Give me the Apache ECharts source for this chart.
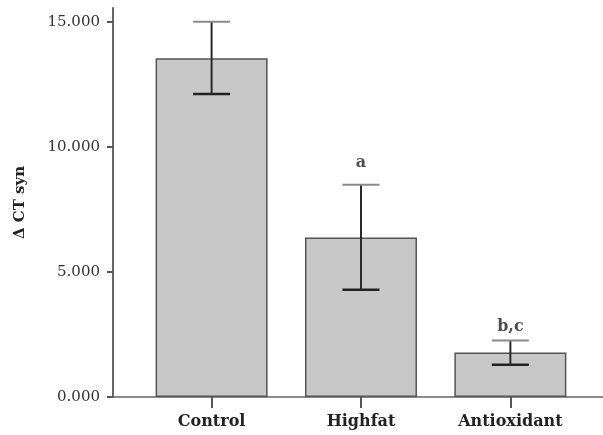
<!DOCTYPE html>
<html><head><meta charset="utf-8">
<script src="https://cdn.jsdelivr.net/npm/echarts@6/dist/echarts.min.js"></script>
<style>html,body{margin:0;padding:0;background:#fff}#c{width:603px;height:435px}</style>
</head><body><div id="c"></div>
<script>
var categories = ['Control', 'Highfat', 'Antioxidant'];
var means = [13.55, 6.38, 1.78];
var upper = [15.01, 8.49, 2.26];
var lower = [12.12, 4.29, 1.29];
var annotations = ['', 'a', 'b,c'];
var annotationY = [null, 9.37, 2.81];
var yTicks = [0, 5, 10, 15];

var chart = echarts.init(document.getElementById('c'), null, {renderer: 'canvas'});
var serif = 'DejaVu Serif';
var xIdx = categories.map(function (c, i) { return i; });

chart.setOption({
  animation: false,
  grid: {left: 113, right: 0, top: 8, bottom: 38, containLabel: false},
  xAxis: {
    type: 'value', min: -0.66, max: 2.62,
    splitLine: {show: false},
    axisLine: {show: true, onZero: false, lineStyle: {color: '#666', width: 1.5}},
    axisTick: {show: true, customValues: xIdx, length: 11, lineStyle: {color: '#555', width: 2}},
    axisLabel: {customValues: xIdx, margin: 17, fontFamily: serif, fontWeight: 'bold', fontSize: 16, color: '#222',
      formatter: function (v) { return categories[Math.round(v)] || ''; }}
  },
  yAxis: {
    type: 'value', min: 0, max: 15.56,
    name: 'Δ CT syn', nameLocation: 'middle', nameGap: 85,
    nameTextStyle: {fontFamily: serif, fontWeight: 'bold', fontSize: 15, color: '#222'},
    splitLine: {show: false},
    axisLine: {show: true, onZero: false, lineStyle: {color: '#666', width: 2}},
    axisTick: {show: true, customValues: yTicks, length: 6, lineStyle: {color: '#555', width: 2}},
    axisLabel: {customValues: yTicks, margin: 13, fontFamily: serif, fontSize: 15, color: '#333',
      formatter: function (v) { return v.toFixed(3); }}
  },
  series: [
    {
      type: 'bar', barWidth: 112,
      data: means.map(function (m, i) { return [i, m]; }),
      itemStyle: {color: '#c8c8c8', borderColor: '#555', borderWidth: 1.5}
    },
    {
      type: 'custom',
      data: means.map(function (m, i) { return [i, lower[i], upper[i]]; }),
      renderItem: function (params, api) {
        var lo = api.coord([api.value(0), api.value(1)]);
        var hi = api.coord([api.value(0), api.value(2)]);
        var hw = 18.5;
        return {
          type: 'group',
          children: [
            {type: 'line', shape: {x1: lo[0], y1: lo[1], x2: hi[0], y2: hi[1]}, style: {stroke: '#2a2a2a', lineWidth: 2}},
            {type: 'line', shape: {x1: hi[0] - hw, y1: hi[1], x2: hi[0] + hw, y2: hi[1]}, style: {stroke: '#8a8a8a', lineWidth: 2}},
            {type: 'line', shape: {x1: lo[0] - hw, y1: lo[1], x2: lo[0] + hw, y2: lo[1]}, style: {stroke: '#222', lineWidth: 2.5}}
          ]
        };
      },
      z: 5
    },
    {
      type: 'scatter', symbolSize: 0,
      data: annotationY.map(function (y, i) { return y == null ? null : [i, y]; }).filter(function (d) { return d; }),
      label: {show: true, position: 'inside', fontFamily: serif, fontWeight: 'bold', fontSize: 16, color: '#222',
        formatter: function (p) { return annotations[Math.round(p.value[0])]; }}
    }
  ]
});
</script></body></html>
